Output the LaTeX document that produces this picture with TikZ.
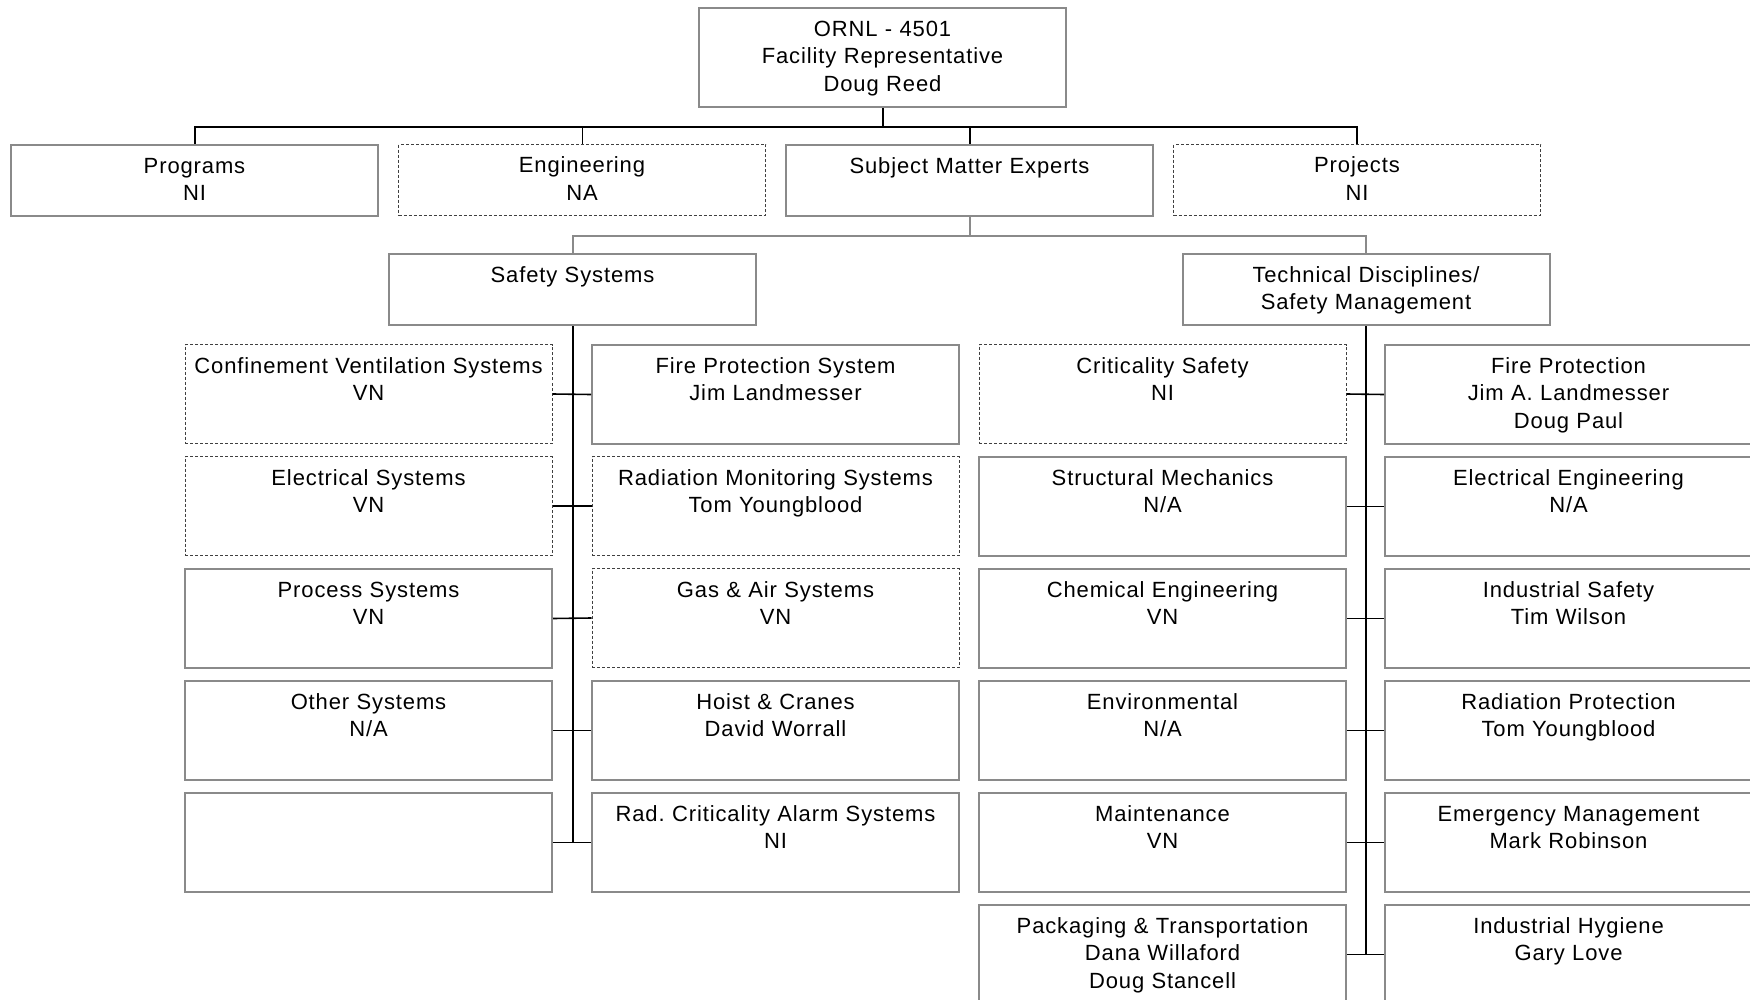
\documentclass[tikz,border=0pt]{standalone}
\usepackage{fontspec}
\newfontfamily\chartfont{Liberation Sans}[LetterSpace=4]
\definecolor{boxgray}{HTML}{8A8A8A}

\tikzset{
  box/.style={draw=boxgray, line width=1pt, anchor=north, inner xsep=0pt, inner ysep=0pt,
    text width=183.5pt, align=center, text height=14.25pt,
    font={\chartfont\fontsize{11pt}{13.7pt}\selectfont\frenchspacing}},
  tallbox/.style={box, text depth=35.25pt},
  shortbox/.style={box, text depth=21.25pt},
  solidbox/.style={},
  dashbox/.style={draw=black!75, line width=0.5pt, dash pattern=on 1.5pt off 1pt},
  bus/.style={black, line width=1pt},
  thinbus/.style={black, line width=0.5pt},
  graybus/.style={boxgray, line width=1pt},
  tee/.style={black, line width=0.8pt}
}

\begin{document}
\begin{tikzpicture}[x=0.5pt,y=-0.5pt]
\useasboundingbox (0,0) rectangle (1750,1000);
\clip (0,0) rectangle (1750,1000);
\def\rowtop#1{344+112*(#1-1)}
    % Top of the chart and the four groups below it
\node[tallbox] (top) at (882.5,7) {ORNL - 4501\\Facility Representative\\Doug Reed};
\node[shortbox] (prog) at (194.5,144) {Programs\\NI};
\node[shortbox,dashbox] (eng) at (582,144) {Engineering\\NA};
\node[shortbox] (sme) at (969.5,144) {Subject Matter Experts};
\node[shortbox,dashbox] (proj) at (1357,144) {Projects\\NI};
\path (top.south) ++(0,19) coordinate (hubA);
\draw[bus] (top.south) -- (hubA);
\draw[bus] (prog.north) |- (hubA) -| (proj.north);
\draw[bus] (sme.north) -- (sme.north |- hubA);
\draw[thinbus] (eng.north) -- (eng.north |- hubA);
    % Subject matter experts split in two
\node[shortbox] (safe) at (572.5,253) {Safety Systems};
\node[shortbox] (tech) at (1366,253) {Technical Disciplines/\\Safety Management};
\path (sme.south) ++(0,19) coordinate (hubB);
\draw[graybus] (sme.south) -- (hubB);
\draw[graybus] (safe.north) |- (hubB) -| (tech.north);
    % Safety systems
\foreach \i/\sty/\txt in {1/dashbox/{Confinement Ventilation Systems\\VN},
    2/dashbox/{Electrical Systems\\VN}, 3/solidbox/{Process Systems\\VN},
    4/solidbox/{Other Systems\\N/A}, 5/solidbox/{}}
  \node[tallbox,\sty] (sl\i) at (368.5,{\rowtop{\i}}) {\txt};
\foreach \i/\sty/\txt in {1/solidbox/{Fire Protection System\\Jim Landmesser},
    2/dashbox/{Radiation Monitoring Systems\\Tom Youngblood},
    3/dashbox/{Gas \& Air Systems\\VN}, 4/solidbox/{Hoist \& Cranes\\David Worrall},
    5/solidbox/{Rad. Criticality Alarm Systems\\NI}}
  \node[tallbox,\sty] (sr\i) at (775.5,{\rowtop{\i}}) {\txt};
\draw[bus] (safe.south) -- (safe.south |- sl5.east);
\foreach \i in {1,...,5} {\draw[tee] (sl\i.east) -- (sr\i.west);}
    % Technical disciplines
\foreach \i/\sty/\txt in {1/dashbox/{Criticality Safety\\NI},
    2/solidbox/{Structural Mechanics\\N/A}, 3/solidbox/{Chemical Engineering\\VN},
    4/solidbox/{Environmental\\N/A}, 5/solidbox/{Maintenance\\VN},
    6/solidbox/{Packaging \& Transportation\\Dana Willaford\\Doug Stancell}}
  \node[tallbox,\sty] (tl\i) at (1162.5,{\rowtop{\i}}) {\txt};
\foreach \i/\sty/\txt in {1/solidbox/{Fire Protection\\Jim A. Landmesser\\Doug Paul},
    2/solidbox/{Electrical Engineering\\N/A}, 3/solidbox/{Industrial Safety\\Tim Wilson},
    4/solidbox/{Radiation Protection\\Tom Youngblood},
    5/solidbox/{Emergency Management\\Mark Robinson},
    6/solidbox/{Industrial Hygiene\\Gary Love}}
  \node[tallbox,\sty] (tr\i) at (1568.5,{\rowtop{\i}}) {\txt};
\draw[bus] (tech.south) -- (tech.south |- tl6.east);
\foreach \i in {1,...,6} {\draw[tee] (tl\i.east) -- (tr\i.west);}
\end{tikzpicture}
\end{document}
